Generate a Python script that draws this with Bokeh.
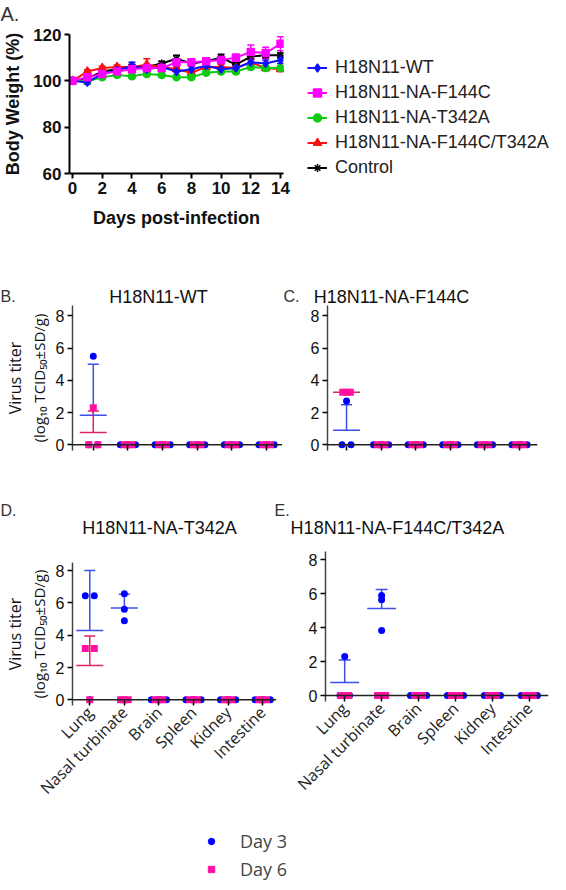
import numpy as np
from bokeh.plotting import figure
from bokeh.models import (ColumnDataSource, Legend, LegendItem, Span, Plot, LinearAxis,
                          Whisker, TeeHead, Range1d, FixedTicker)
from bokeh.layouts import column, row
from bokeh.core.properties import value
from bokeh.embed import file_html
from bokeh.resources import INLINE

# ---------------- Panel A data: body weight (%) ----------------
days = list(range(15))
wt_weight = [100, 99.3, 103, 104.5, 106.5, 105, 106, 104, 105, 106.5, 105, 105.5, 108, 107.5, 109]
wt_sd = [0.5, 0.8, 1.0, 1.0, 1.5, 1.0, 1.5, 1.5, 1.5, 1.0, 1.0, 1.0, 1.5, 1.5, 1.5]
f144c_weight = [100, 101.5, 103, 104, 105, 105.5, 105.5, 108, 108, 108.5, 109, 110, 112.5, 112, 116]
f144c_sd = [0.5, 0.5, 1.0, 1.0, 1.0, 1.0, 1.0, 1.5, 1.0, 1.0, 1.5, 1.5, 3.0, 2.5, 3.0]
t342a_weight = [100, 99.8, 101.5, 102.5, 102, 103, 102.5, 101.5, 101.5, 103.5, 104, 104, 106, 105.5, 105.5]
t342a_sd = [0.5, 0.6, 0.8, 0.8, 0.8, 0.8, 0.8, 0.8, 0.8, 0.8, 0.8, 0.8, 1.0, 1.0, 1.0]
dbl_weight = [100, 104, 105.5, 106, 106, 107, 106, 105, 103.5, 106, 106, 105.5, 108, 105.5, 105]
dbl_sd = [0.5, 0.8, 0.8, 0.8, 1.0, 2.5, 1.0, 1.0, 1.0, 1.0, 1.0, 1.0, 1.0, 1.0, 1.0]
ctrl_weight = [100, 101, 104, 105, 106, 106, 107.5, 109.5, 107.5, 108.5, 110, 107, 110.5, 111, 111]
ctrl_sd = [0.5, 1.0, 1.0, 1.0, 1.0, 1.0, 1.0, 1.5, 1.0, 1.0, 1.5, 1.0, 1.0, 1.0, 1.0]

series_names = ["H18N11-WT", "H18N11-NA-F144C", "H18N11-NA-T342A",
                "H18N11-NA-F144C/T342A", "Control"]

# ---------------- Panels B-E data: virus titer (log10 TCID50/g) ----------------
tissues = ["Lung", "Nasal turbinate", "Brain", "Spleen", "Kidney", "Intestine"]
zero3 = [0, 0, 0]
wt_day3 = [[0, 0, 5.5], zero3, zero3, zero3, zero3, zero3]
wt_day6 = [[2.3, 0, 0], zero3, zero3, zero3, zero3, zero3]
f144c_day3 = [[0, 2.73, 0], zero3, zero3, zero3, zero3, zero3]
f144c_day6 = [[3.26, 3.26, 3.26], zero3, zero3, zero3, zero3, zero3]
t342a_day3 = [[6.44, 6.44, 0], [6.57, 5.61, 4.89], zero3, zero3, zero3, zero3]
t342a_day6 = [[3.18, 3.18, 0], zero3, zero3, zero3, zero3, zero3]
dbl_day3 = [[2.31, 0, 0], [5.65, 3.84, 5.9], zero3, zero3, zero3, zero3]
dbl_day6 = [zero3, zero3, zero3, zero3, zero3, zero3]

panel_titles = ["H18N11-WT", "H18N11-NA-F144C", "H18N11-NA-T342A", "H18N11-NA-F144C/T342A"]
ylabel_1 = "Virus titer"
ylabel_2 = "(log\u2081\u2080 TCID\u2085\u2080\u00b1SD/g)"
day_labels = ["Day 3", "Day 6"]

ARIAL = "Liberation Sans"
OPEN = "Open Sans"
DAY3_COLOR = "#0000ff"
DAY6_COLOR = "#ff10a0"
DAY3_ERR = "#3c4fe6"
DAY6_ERR = "#e0245e"

FA = {"frame_align": False} if "frame_align" in Plot.properties() else {}


def strip(w, h, items):
    """A bare figure used only to hold texts; (x, y) measured from top-left."""
    p = figure(frame_width=w, frame_height=h, min_border=0, x_axis_type=None, y_axis_type=None,
               x_range=Range1d(0, w), y_range=Range1d(0, h),
               output_backend="svg", toolbar_location=None, **FA)
    p.outline_line_color = None
    for (text, x, y, size, align, font, color) in items:
        p.text(x=[x], y=[h - y], text=[text], text_align=align, text_baseline="middle",
               text_font=value(font), text_font_size=f"{size}px", text_color=color)
    return p


# ---------------- Panel A ----------------
stripA = strip(550, 24, [("A.", 0, 13, 20, "left", ARIAL, "#333333")])

LA, TA, FWA, FHA, RA, BA = 64, 10, 214, 139, 272, 85
pa = figure(frame_width=FWA, frame_height=FHA, min_border_left=LA, min_border_top=TA,
            min_border_right=RA, min_border_bottom=BA,
            x_range=Range1d(-0.2, 14.2), y_range=Range1d(60, 120),
            output_backend="svg", toolbar_location=None, **FA)
pa.grid.visible = False
pa.outline_line_color = None
pa.xaxis.ticker = FixedTicker(ticks=list(range(0, 15, 2)))
pa.yaxis.ticker = FixedTicker(ticks=[60, 80, 100, 120])
for ax in (pa.xaxis[0], pa.yaxis[0]):
    ax.axis_line_width = 2
    ax.axis_line_color = "black"
    ax.major_tick_line_width = 2
    ax.major_tick_out = 5
    ax.major_tick_in = 0
    ax.minor_tick_line_color = None
    ax.major_label_text_font = ARIAL
    ax.major_label_text_font_style = "bold"
    ax.major_label_text_font_size = "17px"
    ax.major_label_text_color = "#111111"
    ax.major_label_standoff = 3
    ax.axis_label_text_font = ARIAL
    ax.axis_label_text_font_style = "bold"
    ax.axis_label_text_font_size = "18px"
    ax.axis_label_text_color = "#111111"
pa.xaxis.axis_label = "Days post-infection"
pa.xaxis.axis_label_standoff = 11
pa.yaxis.axis_label = "Body Weight (%)"
pa.yaxis.axis_label_standoff = 7

weights = [wt_weight, f144c_weight, t342a_weight, dbl_weight, ctrl_weight]
sds = [wt_sd, f144c_sd, t342a_sd, dbl_sd, ctrl_sd]
colors = ["#1010ff", "#ff00ff", "#10cc10", "#ff1010", "#000000"]
markers = ["diamond", "square", "circle", "triangle", "asterisk"]
msizes = [8, 7, 7, 8, 8]
draw_order = [4, 3, 2, 0, 1]
legend_renderers = {}
for i in draw_order:
    w = np.array(weights[i], dtype=float)
    s = np.array(sds[i], dtype=float)
    src = ColumnDataSource(dict(x=days, y=w, lo=w - s, hi=w + s))
    c = colors[i]
    pa.add_layout(Whisker(source=src, base="x", upper="hi", lower="lo",
                          line_color=c, line_width=1.5,
                          upper_head=TeeHead(size=7, line_color=c, line_width=1.5),
                          lower_head=TeeHead(size=7, line_color=c, line_width=1.5)))
    ln = pa.line("x", "y", source=src, line_width=2, color=c)
    sc = pa.scatter("x", "y", source=src, marker=markers[i], size=msizes[i],
                    color=c, line_width=1.5)
    legend_renderers[i] = [ln, sc]

leg_a = Legend(items=[LegendItem(label=series_names[i], renderers=legend_renderers[i])
                      for i in range(5)],
               location=(24, -7), padding=0, margin=0, spacing=0,
               glyph_width=20, glyph_height=25, label_height=25, label_standoff=8,
               label_text_font=ARIAL, label_text_font_size="18px",
               label_text_color="#222222", background_fill_alpha=0,
               border_line_color=None)
pa.add_layout(leg_a, "right")


# ---------------- Panels B-E ----------------
def spread(vals, step_pair, step_triple):
    out = []
    for i, v in enumerate(vals):
        same = [j for j, w in enumerate(vals) if abs(w - v) < 1e-6]
        n = len(same)
        k = same.index(i)
        step = step_pair if n == 2 else step_triple
        out.append((k - (n - 1) / 2) * step)
    return out


def titer_panel(day3, day6, fw, fh, left, top, right, bottom, xr, yr, show_labels, ylab):
    p = figure(frame_width=fw, frame_height=fh, min_border_left=left, min_border_top=top,
               min_border_right=right, min_border_bottom=bottom,
               x_range=Range1d(*xr), y_range=Range1d(*yr),
               output_backend="svg", toolbar_location=None, **FA)
    p.grid.visible = False
    p.outline_line_color = None
    p.xaxis.ticker = FixedTicker(ticks=list(range(len(tissues))))
    p.xaxis.major_label_overrides = {i: t for i, t in enumerate(tissues)}
    p.xaxis.axis_line_color = None
    p.xaxis.major_tick_in = 5
    p.xaxis.major_tick_out = 0
    p.xaxis.major_tick_line_width = 1.5
    p.xaxis.minor_tick_line_color = None
    if show_labels:
        p.xaxis.major_label_orientation = np.pi / 4
        p.xaxis.major_label_text_font = OPEN
        p.xaxis.major_label_text_font_size = "16px"
        p.xaxis.major_label_text_color = "#222222"
        p.xaxis.major_label_standoff = 4
    else:
        p.xaxis.major_label_text_color = None
    p.yaxis.ticker = FixedTicker(ticks=[0, 2, 4, 6, 8])
    p.yaxis.axis_line_color = "#444444"
    p.yaxis.axis_line_width = 1.5
    p.yaxis.major_tick_line_width = 1.5
    p.yaxis.major_tick_out = 5
    p.yaxis.major_tick_in = 0
    p.yaxis.minor_tick_line_color = None
    p.yaxis.major_label_text_font = ARIAL
    p.yaxis.major_label_text_font_size = "16px"
    p.yaxis.major_label_text_color = "#111111"
    p.yaxis.major_label_standoff = 3
    if ylab:
        p.yaxis.axis_label = ylabel_2
        p.yaxis.axis_label_standoff = 4
        p.yaxis.axis_label_text_font = OPEN
        p.yaxis.axis_label_text_font_size = "15px"
        p.yaxis.axis_label_text_font_style = "normal"
        p.yaxis.axis_label_text_color = "#111111"
        outer = LinearAxis(axis_label=ylabel_1, ticker=FixedTicker(ticks=[]),
                           axis_line_color=None, major_tick_out=0, major_tick_in=0,
                           minor_tick_out=0, minor_tick_in=0, major_label_standoff=0,
                           axis_label_standoff=0, axis_label_text_font=OPEN,
                           axis_label_text_font_size="16px", axis_label_text_font_style="normal",
                           axis_label_text_color="#111111")
        p.add_layout(outer, "left")
    p.add_layout(Span(location=0, dimension="width", line_color="#222222", line_width=1.5))

    for data, color, err_color, marker, size, tri in (
            (day3, DAY3_COLOR, DAY3_ERR, "circle", 7, 0.22),
            (day6, DAY6_COLOR, DAY6_ERR, "square", 7, 0.11)):
        xs, ys = [], []
        mx0, mx1, my, vx, vy0, vy1, cx0, cx1 = [], [], [], [], [], [], [], []
        for ti, vals in enumerate(data):
            offs = spread(vals, 0.26, tri)
            xs += [ti + o for o in offs]
            ys += list(vals)
            m = float(np.mean(vals))
            s = float(np.std(vals, ddof=1))
            if m > 0:
                mx0.append(ti - 0.39); mx1.append(ti + 0.39); my.append(m)
                if s > 1e-6:
                    vx.append(ti); vy0.append(m); vy1.append(m + s)
                    cx0.append(ti - 0.16); cx1.append(ti + 0.16)
        p.segment(mx0, my, mx1, my, line_color=err_color, line_width=1.5)
        p.segment(vx, vy0, vx, vy1, line_color=err_color, line_width=1.5)
        p.segment(cx0, vy1, cx1, vy1, line_color=err_color, line_width=1.5)
        p.scatter(xs, ys, marker=marker, size=size, color=color, line_width=0)
    return p


# Row B / C
stripBC = strip(550, 47, [("B.", 0, 38, 16, "left", ARIAL, "#333333"),
                          (panel_titles[0], 158, 38, 18, "center", ARIAL, "#111111"),
                          ("C.", 283, 38, 16, "left", ARIAL, "#333333"),
                          (panel_titles[1], 391, 38, 18, "center", ARIAL, "#111111")])
pb = titer_panel(wt_day3, wt_day6, 210, 145, 64, 0, 0, 20, (-0.6, 5.46), (-0.35, 8.65), False, True)
pc = titer_panel(f144c_day3, f144c_day6, 210, 145, 45, 0, 20, 20, (-0.55, 5.52), (-0.35, 8.65), False, False)

# Row D / E
stripDE = strip(550, 75, [("D.", 0, 40, 16, "left", ARIAL, "#333333"),
                          (panel_titles[2], 159, 57, 18, "center", ARIAL, "#111111"),
                          ("E.", 274, 40, 16, "left", ARIAL, "#333333"),
                          (panel_titles[3], 397, 57, 18, "center", ARIAL, "#111111")])
pd_ = titer_panel(t342a_day3, t342a_day6, 204, 143, 67, 17, 3, 118, (-0.5, 5.4), (-0.35, 8.5), True, True)
pe = titer_panel(dbl_day3, dbl_day6, 223, 150, 46, 6, 6, 122, (-0.52, 5.52), (-0.35, 8.5), True, False)

# ---------------- Day legend ----------------
pl = figure(frame_width=550, frame_height=58, min_border=0, x_axis_type=None, y_axis_type=None,
            x_range=Range1d(0, 1), y_range=Range1d(0, 1),
            output_backend="svg", toolbar_location=None, **FA)
pl.outline_line_color = None
r3 = pl.scatter(x=[np.nan], y=[np.nan], marker="circle", size=10, color=DAY3_COLOR)
r6 = pl.scatter(x=[np.nan], y=[np.nan], marker="square", size=9, color=DAY6_COLOR)
leg_l = Legend(items=[LegendItem(label=day_labels[0], renderers=[r3]),
                      LegendItem(label=day_labels[1], renderers=[r6])],
               location=(203, 0), padding=0, margin=0, spacing=4,
               glyph_width=16, glyph_height=20, label_height=20, label_standoff=21,
               label_text_font=OPEN, label_text_font_size="18px",
               label_text_color="#444444", background_fill_alpha=0,
               border_line_color=None)
pl.add_layout(leg_l)

layout = column(stripA, pa, stripBC, row(pb, pc), stripDE, row(pd_, pe), pl)
open("out.html", "w").write(file_html(layout, INLINE))
